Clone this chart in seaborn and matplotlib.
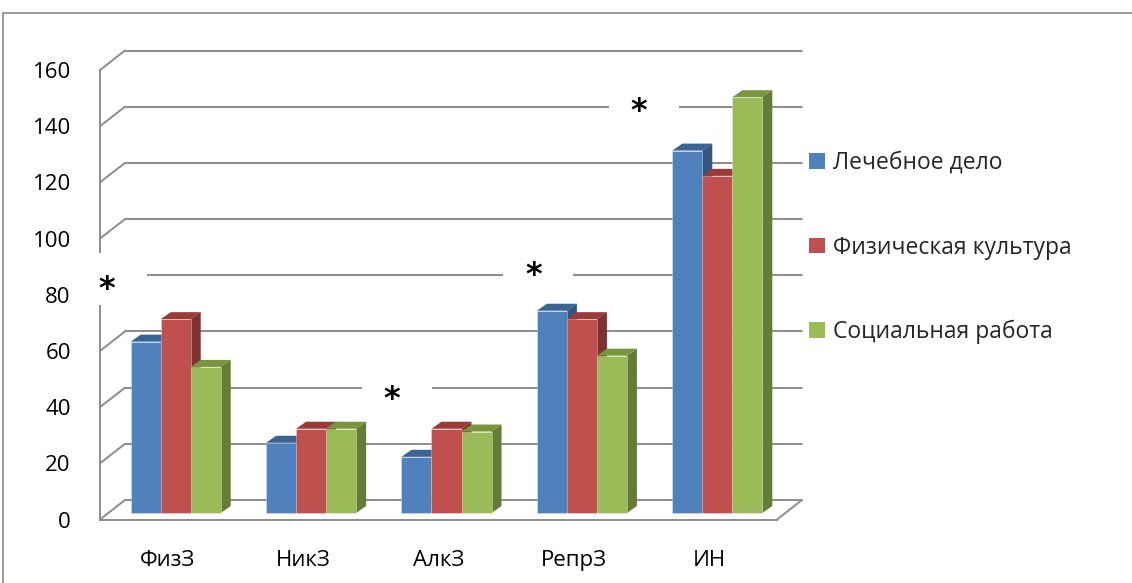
import numpy as np
import pandas as pd
import matplotlib
matplotlib.use("Agg")
import matplotlib.pyplot as plt
import seaborn as sns
from matplotlib import transforms
from matplotlib.patches import Polygon, Rectangle
from matplotlib.lines import Line2D

# ---- data ----
categories = ["ФизЗ", "НикЗ", "АлкЗ", "РепрЗ", "ИН"]
groups = ["Лечебное дело", "Физическая культура", "Социальная работа"]
lechebnoe = [61, 25, 20, 72, 129]
fizkultura = [69, 30, 30, 69, 120]
socrabota = [52, 30, 29, 56, 148]
y_ticks = list(range(0, 161, 20))
# significance marks: (category position, value level)
star_x = [-0.45, 1.654, 2.70, 3.48]
star_y = [84.1, 44.7, 89.0, 147.2]

front_colors = ["#4F81BD", "#C0504D", "#9BBB59"]
top_colors = ["#3C6395", "#9A3B39", "#79953E"]
side_colors = ["#33557F", "#80302F", "#657C37"]
grid_c = "#8C8C8C"

df = pd.DataFrame({
    "cat": categories * 3,
    "group": [g for g in groups for _ in categories],
    "value": lechebnoe + fizkultura + socrabota,
})

sns.set_style("white")
plt.rcParams["font.family"] = ["Open Sans", "DejaVu Sans"]

W, H = 1132, 583
fig = plt.figure(figsize=(W / 100, H / 100), dpi=100)
ax = fig.add_axes([100 / W, (H - 519.5) / H, 677 / W, 449.5 / H])

sns.barplot(data=df, x="cat", y="value", hue="group", order=categories,
            hue_order=groups, palette=front_colors, saturation=1,
            width=0.665, linewidth=0, ax=ax)
ax.set_xlim(-0.5, 4.5)
ax.set_ylim(0, 160)
ax.set_xlabel("")
ax.set_ylabel("")

px = 1 / 100  # one pixel in inches
bar_off = transforms.ScaledTranslation(8 * px, 6.5 * px, fig.dpi_scale_trans)
back_off = transforms.ScaledTranslation(25 * px, 19.5 * px, fig.dpi_scale_trans)


def pix_at(x, y):
    """Pixel-unit coordinates anchored at a data point."""
    return transforms.Affine2D() + transforms.ScaledTranslation(x, y, ax.transData)


# back wall gridlines and their links to the front axis
for v in y_ticks:
    ax.plot([-0.5, 4.5], [v, v], color=grid_c, lw=1.4,
            transform=ax.transData + back_off, clip_on=False, zorder=1)
    ax.plot([0, 25], [0, 19.5], color=grid_c, lw=1.4,
            transform=pix_at(-0.5, v), clip_on=False, zorder=1)
# right edge of the floor
ax.plot([0, 25], [0, 19.5], color=grid_c, lw=1.4,
        transform=pix_at(4.5, 0), clip_on=False, zorder=1)

# bars with 3D top and side faces
dx, dy = 10, 7
ident = transforms.IdentityTransform()
for j, cont in enumerate(ax.containers):
    for bar in cont:
        z = 3 + j * 0.1
        bar.set_transform(ax.transData + bar_off)
        bar.set_zorder(z)
        bar.set_edgecolor((1, 1, 1, 0.35))
        bar.set_linewidth(0.6)
        x0, x1 = bar.get_x(), bar.get_x() + bar.get_width()
        h = bar.get_height()
        tr = ax.transData + bar_off
        (ax0, ay0), (ax1, ay1) = tr.transform([(x0, 0), (x1, h)])
        top = Polygon([(ax0, ay1), (ax1, ay1), (ax1 + dx, ay1 + dy), (ax0 + dx, ay1 + dy)],
                      closed=True, fc=top_colors[j], ec="none", transform=ident,
                      zorder=z - 0.05, clip_on=False)
        side = Polygon([(ax1, ay0), (ax1, ay1), (ax1 + dx, ay1 + dy), (ax1 + dx, ay0 + dy)],
                       closed=True, fc=side_colors[j], ec="none", transform=ident,
                       zorder=z - 0.05, clip_on=False)
        ax.add_patch(top)
        ax.add_patch(side)

# significance asterisks on white boxes
for sx, sy in zip(star_x, star_y):
    ax.add_patch(Rectangle((-30, -22), 70, 52, transform=pix_at(sx, sy),
                           fc="white", ec="none", zorder=2.7, clip_on=False))
    ax.text(0, -6, "*", transform=pix_at(sx, sy), ha="center", va="center",
            fontsize=23, fontweight="bold", color="black", zorder=2.8,
            family="DejaVu Sans")

# axes styling
for s in ["top", "right"]:
    ax.spines[s].set_visible(False)
for s in ["left", "bottom"]:
    ax.spines[s].set_color(grid_c)
    ax.spines[s].set_linewidth(1.4)

ax.set_yticks(y_ticks)
ax.tick_params(axis="y", length=8, width=1.4, color=grid_c, pad=13,
               labelsize=16, labelcolor="black")
ax.set_xticks(np.arange(-0.5, 5, 1), labels=[""] * 6)
ax.set_xticks(range(len(categories)), labels=categories, minor=True)
ax.tick_params(axis="x", which="major", length=8, width=1.4, color=grid_c,
               direction="out")
ax.tick_params(axis="x", which="minor", length=0, pad=22, labelsize=16,
               labelcolor="black")

handles, labels = ax.get_legend_handles_labels()
ax.legend(handles, labels, loc="upper left", bbox_to_anchor=(809 / W, 1 - 151 / H),
          bbox_transform=fig.transFigure, frameon=False, fontsize=16.5,
          handlelength=0.68, handleheight=0.68, handletextpad=0.35,
          labelspacing=2.64, borderpad=0, borderaxespad=0)

# outer chart frame
fig.add_artist(Line2D([3 / W, 1], [1 - 13 / H] * 2, color="#8A8A8A", lw=1.2,
                      transform=fig.transFigure))
fig.add_artist(Line2D([3 / W] * 2, [0, 1 - 13 / H], color="#8A8A8A", lw=1.2,
                      transform=fig.transFigure))

fig.savefig("out.png", dpi=100, facecolor="white")
